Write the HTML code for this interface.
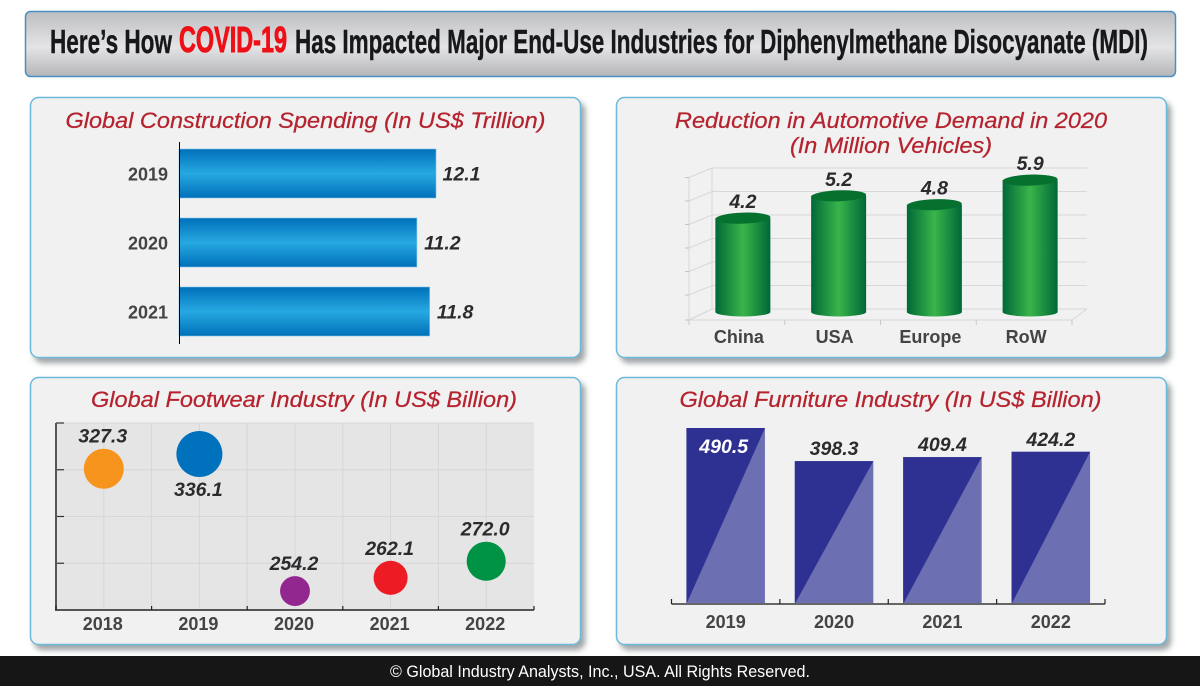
<!DOCTYPE html>
<html lang="en">
<head>
<meta charset="utf-8">
<title>COVID-19 Impact on MDI End-Use Industries</title>
<style>
html,body{margin:0;padding:0;background:#fff;width:1200px;height:686px;overflow:hidden}
svg{display:block}
text{font-family:"Liberation Sans",sans-serif}
.pt{font-size:22px;font-style:italic;fill:#b5232e;text-anchor:middle;stroke:#b5232e;stroke-width:.25px}
.tick{font-size:18px;font-weight:bold;fill:#444;text-anchor:middle}
.val{font-size:19.5px;font-weight:bold;font-style:italic;fill:#2b2b2e;text-anchor:middle}
.hd{font-size:33px;font-weight:bold;fill:#17181a;stroke:#17181a;stroke-width:.4px}
</style>
</head>
<body>
<svg id="root" width="1200" height="686" viewBox="0 0 1200 686" xmlns="http://www.w3.org/2000/svg">
<defs>
<linearGradient id="hdG" x1="0" y1="0" x2="0" y2="1">
<stop offset="0" stop-color="#bdbec1"/><stop offset=".55" stop-color="#e4e4e6"/><stop offset="1" stop-color="#b4b5b8"/>
</linearGradient>
<linearGradient id="blueG" x1="0" y1="0" x2="0" y2="1">
<stop offset="0" stop-color="#0070ba"/><stop offset=".5" stop-color="#27a9e1"/><stop offset="1" stop-color="#0070ba"/>
</linearGradient>
<linearGradient id="greenG" x1="0" y1="0" x2="1" y2="0">
<stop offset="0" stop-color="#006837"/><stop offset=".5" stop-color="#39b54a"/><stop offset="1" stop-color="#006837"/>
</linearGradient>
<filter id="sh" x="-5%" y="-5%" width="112%" height="115%">
<feDropShadow dx="4" dy="5" stdDeviation="3" flood-color="#6d7378" flood-opacity=".65"/>
</filter>
</defs>

<rect x="25.500" y="11.500" width="1150" height="65" rx="5" fill="url(#hdG)" stroke="#4b8fc2" stroke-width="1.500"/>
<text class="hd" x="50" y="53" textLength="122" lengthAdjust="spacingAndGlyphs">Here’s How</text>
<text class="hd" x="179" y="52" textLength="108" lengthAdjust="spacingAndGlyphs" style="font-size:36px;fill:#ed1016;stroke:#ed1016;stroke-width:.9px">COVID-19</text>
<text class="hd" x="295" y="53" textLength="853" lengthAdjust="spacingAndGlyphs">Has Impacted Major End-Use Industries for Diphenylmethane Disocyanate (MDI)</text>

<rect x="30.500" y="97.500" width="550" height="260" rx="8" fill="#f1f1f2" stroke="#6db9d9" stroke-width="1.500" filter="url(#sh)"/>
<rect x="616.500" y="97.500" width="550" height="260" rx="8" fill="#f1f1f2" stroke="#6db9d9" stroke-width="1.500" filter="url(#sh)"/>
<rect x="30.500" y="377.500" width="550" height="267" rx="8" fill="#f1f1f2" stroke="#6db9d9" stroke-width="1.500" filter="url(#sh)"/>
<rect x="616.500" y="377.500" width="550" height="267" rx="8" fill="#f1f1f2" stroke="#6db9d9" stroke-width="1.500" filter="url(#sh)"/>

<text class="pt" x="305.500" y="128" textLength="480" lengthAdjust="spacingAndGlyphs">Global Construction Spending (In US$ Trillion)</text>
<text class="pt" x="891" y="128" textLength="432" lengthAdjust="spacingAndGlyphs">Reduction in Automotive Demand in 2020</text>
<text class="pt" x="891" y="153" textLength="202" lengthAdjust="spacingAndGlyphs">(In Million Vehicles)</text>
<text class="pt" x="304" y="407" textLength="426" lengthAdjust="spacingAndGlyphs">Global Footwear Industry (In US$ Billion)</text>
<text class="pt" x="890.500" y="407" textLength="422" lengthAdjust="spacingAndGlyphs">Global Furniture Industry (In US$ Billion)</text>

<g id="constructionChart"></g>
<g id="automotiveChart"></g>
<g id="footwearChart"></g>
<g id="furnitureChart"></g>

<rect x="0" y="656" width="1200" height="30" fill="#161616"/>
<text x="600" y="677" text-anchor="middle" textLength="420" lengthAdjust="spacingAndGlyphs" style="font-size:17px;fill:#fff">© Global Industry Analysts, Inc., USA. All Rights Reserved.</text>
</svg>

<script>
const constructionYears = ['2019', '2020', '2021'];
const constructionValues = [12.1, 11.2, 11.8];
const automotiveRegions = ['China', 'USA', 'Europe', 'RoW'];
const automotiveValues = [4.2, 5.2, 4.8, 5.9];
const footwearYears = ['2018', '2019', '2020', '2021', '2022'];
const footwearValues = [327.3, 336.1, 254.2, 262.1, 272.0];
const footwearBubbleWeights = [0.87, 1, 0.65, 0.74, 0.85];
const furnitureYears = ['2019', '2020', '2021', '2022'];
const furnitureValues = [490.5, 398.3, 409.4, 424.2];

const NS = 'http://www.w3.org/2000/svg';
function mk(parent, tag, attrs, txt) {
  const e = document.createElementNS(NS, tag);
  for (const k in attrs) e.setAttribute(k, attrs[k]);
  if (txt !== undefined) e.textContent = txt;
  parent.appendChild(e);
  return e;
}
function fmt(v, d) { return v.toFixed(d); }

/* ---------- construction: horizontal bars ---------- */
(function () {
  const g = document.getElementById('constructionChart');
  const x0 = 179;
  const xScale = v => x0 + v * 21.24;
  const yCenter = i => 173.5 + i * 69;
  const barH = 49;
  constructionYears.forEach((cat, i) => {
    const bar = mk(g, 'rect', {x: x0, y: yCenter(i) - barH / 2, width: xScale(constructionValues[i]) - x0, height: barH, fill: 'url(#blueG)', stroke: '#7cc4e6', 'stroke-width': 0.6});
    
    
    const lab = mk(g, 'text', {class: 'tick', x: 148, y: yCenter(i) + 7}, cat);
    
    
    const val = mk(g, 'text', {class: 'val', x: xScale(constructionValues[i]) + 25.5, y: yCenter(i) + 7}, fmt(constructionValues[i], 1));
    
    
  });
  const axis = mk(g, 'line', {x1: x0 + 0.5, x2: x0 + 0.5, y1: 142, y2: 344, stroke: '#000', 'stroke-width': 1});
  
  
})();

/* ---------- automotive: 3D cylinders ---------- */
(function () {
  const g = document.getElementById('automotiveChart');
  const left = 689, right = 1072, backDX = 23, floorFront = 320;
  const step = (right - left) / automotiveRegions.length;
  const gridCount = 6;
  const backY = k => 309 - k * 23.5;
  const yScale = v => 312 - v * 22.35;
  const xCenter = i => left + step * (i + 0.5) + 6;
  const labelX = i => left + step * (i + 0.5) + 2;
  const wall = mk(g, 'path', {d: `M${left} 178V${floorFront}L${left + backDX} 309V168`, fill: 'none', stroke: '#d6d6d6', 'stroke-width': 1});
  
  
  for (let k = 0; k <= gridCount; k++) {
    const fy = k === 0 ? floorFront : backY(k) + 9.5;
    const line = mk(g, 'path', {d: `M${left} ${fy}L${left + backDX} ${backY(k)}H1087`, fill: 'none', stroke: '#d8d8d8', 'stroke-width': 1});
    
    
    const tk = mk(g, 'line', {x1: left - 4, x2: left, y1: fy, y2: fy, stroke: '#c4c4c4', 'stroke-width': 1});
    
    
  }
  const floor = mk(g, 'path', {d: `M${left} ${floorFront}H${right}L1087 309`, fill: 'none', stroke: '#d6d6d6', 'stroke-width': 1});
  
  
  for (let i = 0; i <= automotiveRegions.length; i++) {
    const tk = mk(g, 'line', {x1: left + step * i, x2: left + step * i, y1: floorFront, y2: floorFront + 5, stroke: '#c8c8c8', 'stroke-width': 1});
    
    
  }
  const rx = 27.5;
  automotiveRegions.forEach((cat, i) => {
    const cx = xCenter(i), top = yScale(automotiveValues[i]), bottom = 312;
    const body = mk(g, 'path', {d: `M${cx - rx} ${top}V${bottom}A${rx} 4.500 0 0 0 ${cx + rx} ${bottom}V${top}Z`, fill: 'url(#greenG)'});
    
    
    const cap = mk(g, 'ellipse', {cx: cx, cy: top, rx: rx, ry: 5.5, fill: '#06702f', transform: `rotate(-2 ${cx} ${top})`});
    
    
    const val = mk(g, 'text', {class: 'val', x: cx, y: top - 10}, fmt(automotiveValues[i], 1));
    
    
    const lab = mk(g, 'text', {class: 'tick', x: labelX(i), y: 343}, cat);
    
    
  });
})();

/* ---------- footwear: bubbles ---------- */
(function () {
  const g = document.getElementById('footwearChart');
  const left = 56, right = 534, top = 423, bottom = 610;
  const step = (right - left) / footwearYears.length;
  const xCenter = i => left + step * (i + 0.5);
  const yScale = v => 454 + (336.1 - v) * 1.673;
  const rScale = w => w * 23;
  const plot = mk(g, 'rect', {x: left, y: top, width: right - left, height: bottom - top, fill: '#e5e5e6'});
  
  
  for (let k = 0; k <= 4; k++) {
    const y = bottom - k * (bottom - top) / 4;
    const gl = mk(g, 'line', {x1: left, x2: right, y1: y, y2: y, stroke: '#d6d6d7', 'stroke-width': 1});
    
    
    const tk = mk(g, 'line', {x1: left, x2: left + 8, y1: y, y2: y, stroke: '#333', 'stroke-width': 1.2});
    
    
  }
  for (let k = 1; k < footwearYears.length * 2; k++) {
    const x = left + k * step / 2;
    const gl = mk(g, 'line', {x1: x, x2: x, y1: top, y2: bottom, stroke: '#d6d6d7', 'stroke-width': 1});
    
    
  }
  const axes = mk(g, 'path', {d: `M${left} ${top}V${bottom}H${right}`, fill: 'none', stroke: '#555', 'stroke-width': 2});
  
  
  for (let k = 0; k <= footwearYears.length; k++) {
    const x = left + k * step;
    const tk = mk(g, 'line', {x1: x, x2: x, y1: bottom - 4, y2: bottom, stroke: '#222', 'stroke-width': 1.2});
    
    
  }
  const colors = ['#f7941d', '#0071bc', '#92278f', '#ed1c24', '#009245'];
  footwearYears.forEach((cat, i) => {
    const v = footwearValues[i], cx = xCenter(i), cy = yScale(v), r = rScale(footwearBubbleWeights[i]);
    const c = mk(g, 'circle', {cx: cx, cy: cy, r: r, fill: colors[i]});
    
    
    const labelY = v === Math.max(...footwearValues) ? cy + r + 19 : cy - r - 6;
    const val = mk(g, 'text', {class: 'val', x: cx - 1, y: labelY}, fmt(v, 1));
    
    
    const lab = mk(g, 'text', {class: 'tick', x: cx - 1, y: 630}, cat);
    
    
  });
})();

/* ---------- furniture: two-tone columns ---------- */
(function () {
  const g = document.getElementById('furnitureChart');
  const left = 671.5, right = 1105, base = 604, barW = 78.5;
  const step = (right - left) / furnitureYears.length;
  const xCenter = i => left + step * (i + 0.5);
  const yScale = v => base - v * 0.3588;
  furnitureYears.forEach((cat, i) => {
    const v = furnitureValues[i], cx = xCenter(i), x0 = cx - barW / 2, x1 = cx + barW / 2, y = yScale(v);
    const bar = mk(g, 'rect', {x: x0, y: y, width: barW, height: base - y, fill: '#6c6fb1'});
    
    
    const tri = mk(g, 'path', {d: `M${x0} ${base}V${y}H${x1}Z`, fill: '#2e3192'});
    
    
    const inside = v === Math.max(...furnitureValues);
    const val = mk(g, 'text', {class: 'val', x: inside ? cx - 2 : cx, y: inside ? y + 25 : y - 6, style: inside ? 'fill:#fff' : ''}, fmt(v, 1));
    
    
    const lab = mk(g, 'text', {class: 'tick', x: cx, y: 628}, cat);
    
    
  });
  const axis = mk(g, 'line', {x1: left, x2: right, y1: base, y2: base, stroke: '#666', 'stroke-width': 2});
  
  
  for (let k = 0; k <= furnitureYears.length; k++) {
    const x = left + k * step;
    const tk = mk(g, 'line', {x1: x, x2: x, y1: base - 5, y2: base, stroke: '#222', 'stroke-width': 1.2});
    
    
  }
})();
</script>
</body>
</html>
